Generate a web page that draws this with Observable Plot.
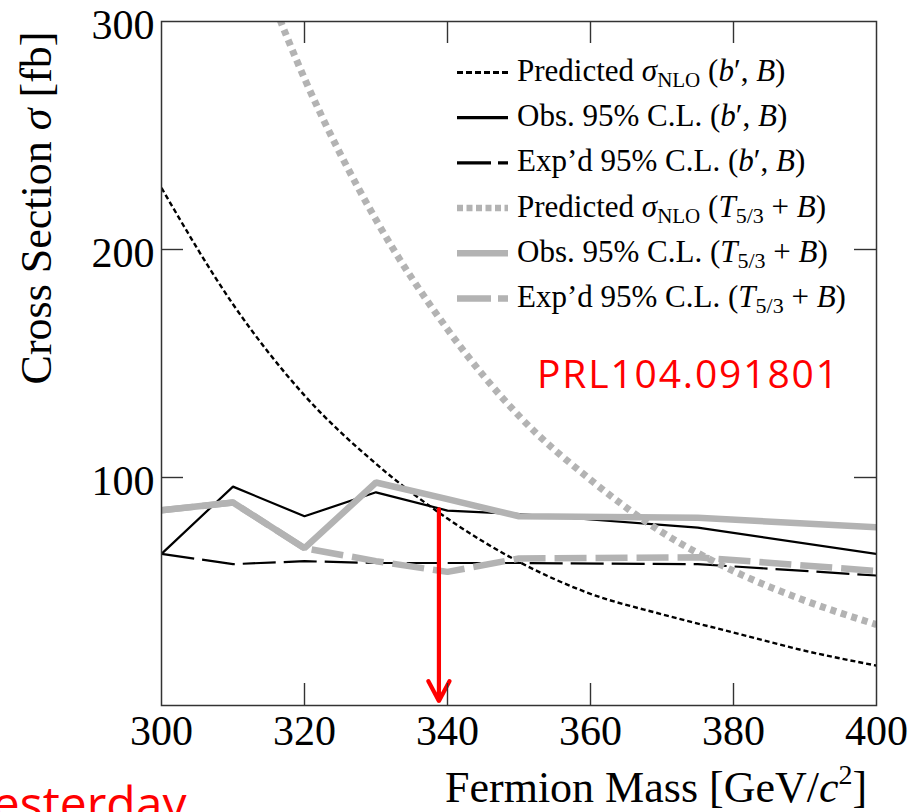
<!DOCTYPE html>
<html><head><meta charset="utf-8">
<script src="https://cdn.jsdelivr.net/npm/d3@7"></script>
<script src="https://cdn.jsdelivr.net/npm/@observablehq/plot@0.6"></script>
<style>
html,body{margin:0;padding:0;background:#fff;}
#wrap{position:relative;width:914px;height:812px;overflow:hidden;background:#fff;}
#wrap svg.overlay{position:absolute;left:0;top:0;pointer-events:none;}
</style></head><body><div id="wrap"></div>
<script>
// ---- data ----
const massGrid = [300, 310, 320, 330, 340, 350, 360, 370, 380, 390, 400];
const predBprime = [227, 176, 136, 106, 82, 63, 49, 40, 32, 24, 17.5];
const massGridT = [310, 320, 330, 340, 350, 360, 370, 380, 390, 400];
const predT53 = [355, 275, 213, 165, 127, 99, 76, 59, 46, 35.5];
const limitMass = [300, 310, 320, 330, 340, 350, 375, 400];
const obsBprime = [66.5, 96, 83, 93.5, 85.5, 84, 78, 66.5];
const expBprime = [66.5, 62, 63.3, 62.5, 62.5, 62.5, 62, 57];
const obsT53 = [85.6, 89, 69, 97.8, 90.5, 83, 82.3, 78.2];
const expT53 = [85.6, 89, 69, 63.3, 58.6, 64.5, 65, 59];
const arrowMass = [338.8];
const arrowFrom = [86];
const arrowTo = [2];
const xTicks = [300, 320, 340, 360, 380, 400];
const yTicks = [100, 200, 300];
const legendLabels = [
  'Predicted <tspan font-style="italic">σ</tspan><tspan font-size="21" dy="6">NLO</tspan><tspan dy="-6"> (</tspan><tspan font-style="italic">b</tspan>′, <tspan font-style="italic">B</tspan>)',
  'Obs. 95% C.L. (<tspan font-style="italic">b</tspan>′, <tspan font-style="italic">B</tspan>)',
  'Exp’d 95% C.L. (<tspan font-style="italic">b</tspan>′, <tspan font-style="italic">B</tspan>)',
  'Predicted <tspan font-style="italic">σ</tspan><tspan font-size="21" dy="6">NLO</tspan><tspan dy="-6"> (</tspan><tspan font-style="italic">T</tspan><tspan font-size="22" dy="6">5/3</tspan><tspan dy="-6"> + </tspan><tspan font-style="italic">B</tspan>)',
  'Obs. 95% C.L. (<tspan font-style="italic">T</tspan><tspan font-size="22" dy="6">5/3</tspan><tspan dy="-6"> + </tspan><tspan font-style="italic">B</tspan>)',
  'Exp’d 95% C.L. (<tspan font-style="italic">T</tspan><tspan font-size="22" dy="6">5/3</tspan><tspan dy="-6"> + </tspan><tspan font-style="italic">B</tspan>)'
];
const yTitle = ['Cross Section ', 'σ', ' [fb]'];
const xTitle = ['Fermion Mass [GeV/', 'c', '2', ']'];
const noteText = 'PRL104.091801';
const cornerText = 'Yesterday';

// ---- styles ----
const GRAY = "#b3b3b3";
const styles = [
  {stroke: "#000", strokeWidth: 2.4, dash: "5,3"},
  {stroke: "#000", strokeWidth: 2.2, dash: null},
  {stroke: "#000", strokeWidth: 2.2, dash: "33,8"},
  {stroke: GRAY, strokeWidth: 7, dash: "6,5"},
  {stroke: GRAY, strokeWidth: 6.5, dash: null},
  {stroke: GRAY, strokeWidth: 6.5, dash: "32,9"}
];

const rows = (xs, ys) => xs.map((m, i) => ({m, v: ys[i]}));
const series = [
  {data: rows(massGrid, predBprime), curve: "monotone-x"},
  {data: rows(limitMass, obsBprime), curve: "linear"},
  {data: rows(limitMass, expBprime), curve: "linear"},
  {data: rows(massGridT, predT53), curve: "monotone-x"},
  {data: rows(limitMass, obsT53), curve: "linear"},
  {data: rows(limitMass, expT53), curve: "linear"}
];

const lineMarks = series.map((s, i) => Plot.line(s.data, {
  x: "m", y: "v", curve: s.curve, clip: true,
  stroke: styles[i].stroke, strokeWidth: styles[i].strokeWidth,
  strokeDasharray: styles[i].dash || undefined,
  strokeLinecap: "butt", strokeLinejoin: "miter"
}));

const arrowData = arrowMass.map((m, i) => ({m, y1: arrowFrom[i], y2: arrowTo[i]}));
const innerX = xTicks.slice(1, -1);
const innerY = yTicks.slice(0, -1);
const TL = 22;
const frameW = 914 - 161 - 38, frameH = 812 - 21 - 107;

const plot = Plot.plot({
  width: 914, height: 812,
  marginLeft: 161, marginRight: 38, marginTop: 21, marginBottom: 107,
  x: {domain: [300, 400], label: null},
  y: {domain: [0, 300], label: null},
  style: {fontFamily: "'Liberation Serif', 'DejaVu Serif', serif", background: "#fff", color: "#000"},
  marks: [
    ...lineMarks,
    Plot.arrow(arrowData, {x1: "m", x2: "m", y1: "y1", y2: "y2", stroke: "#ff0000", strokeWidth: 4.2, headLength: 8, headAngle: 56}),
    Plot.tickX(innerX, {x: d => d, insetTop: frameH - TL, stroke: "#333", strokeWidth: 1.4}),
    Plot.tickX(innerX, {x: d => d, insetBottom: frameH - TL, stroke: "#333", strokeWidth: 1.4}),
    Plot.tickY(innerY, {y: d => d, insetRight: frameW - TL, stroke: "#333", strokeWidth: 1.4}),
    Plot.tickY(innerY, {y: d => d, insetLeft: frameW - TL, stroke: "#333", strokeWidth: 1.4}),
    Plot.frame({stroke: "#333", strokeWidth: 1.5}),
    Plot.axisX({ticks: xTicks, tickSize: 0, tickPadding: 10, fontSize: 42, label: null, tickFormat: d => String(d)}),
    Plot.axisY({ticks: yTicks, tickSize: 0, tickPadding: 7, fontSize: 42, dy: 4, label: null, tickFormat: d => String(d)})
  ]
});
const wrap = document.getElementById("wrap");
wrap.appendChild(plot);

// ---- overlay: titles, legend, annotations ----
const ns = "http://www.w3.org/2000/svg";
const ov = document.createElementNS(ns, "svg");
ov.setAttribute("class", "overlay");
ov.setAttribute("width", 914); ov.setAttribute("height", 812);
let html = "";
const serif = "'Liberation Serif', 'DejaVu Serif', serif";
html += `<text transform="translate(51,208) rotate(-90)" text-anchor="middle" font-family="${serif}" font-size="44" fill="#000">${yTitle[0]}<tspan font-style="italic">${yTitle[1]}</tspan>${yTitle[2]}</text>`;
html += `<text x="445" y="802" font-family="${serif}" font-size="44" fill="#000">${xTitle[0]}<tspan font-style="italic">${xTitle[1]}</tspan><tspan font-size="28" dy="-18">${xTitle[2]}</tspan><tspan dy="18">${xTitle[3]}</tspan></text>`;
legendLabels.forEach((lab, i) => {
  const cy = 72.5 + i * 45.2;
  const st = styles[i];
  html += `<line x1="457" x2="508" y1="${cy}" y2="${cy}" stroke="${st.stroke}" stroke-width="${i < 3 ? 3.2 : 6.5}" ${st.dash ? `stroke-dasharray="${i===0? '6,3' : i===3 ? '6,3.5' : '34,7'}"` : ""}/>`;
  html += `<text x="517" y="${cy + 8.5}" font-family="${serif}" font-size="31" fill="#000">${lab}</text>`;
});
html += `<text x="537" y="388" font-family="'Open Sans', Lato, sans-serif" font-size="39" fill="#ff0000" textLength="301" lengthAdjust="spacing">${noteText}</text>`;
html += `<text x="-34" y="821" font-family="'Open Sans', Lato, sans-serif" font-size="48" fill="#ff0000">${cornerText}</text>`;
ov.innerHTML = html;
wrap.appendChild(ov);
</script></body></html>
